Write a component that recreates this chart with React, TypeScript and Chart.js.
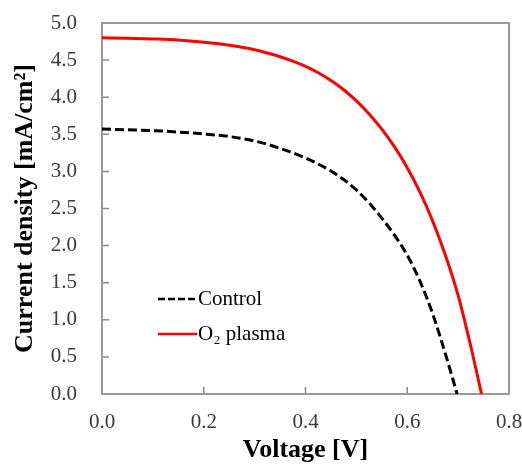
import React, { useEffect, useRef } from "react";
import { Chart, registerables } from "chart.js";

Chart.register(...registerables);

const controlV = [0, 0.05, 0.1, 0.15, 0.2, 0.25, 0.3, 0.325, 0.35, 0.375, 0.4, 0.425, 0.45, 0.475, 0.5, 0.525, 0.55, 0.575, 0.6, 0.625, 0.65, 0.675, 0.698];
const controlJ = [3.57, 3.56, 3.55, 3.53, 3.505, 3.47, 3.41, 3.365, 3.31, 3.25, 3.18, 3.1, 3.005, 2.89, 2.75, 2.575, 2.37, 2.14, 1.87, 1.52, 1.08, 0.54, 0.0];

const plasmaV = [0, 0.05, 0.1, 0.15, 0.2, 0.25, 0.3, 0.325, 0.35, 0.375, 0.4, 0.425, 0.45, 0.475, 0.5, 0.525, 0.55, 0.575, 0.6, 0.625, 0.65, 0.675, 0.7, 0.725, 0.746];
const plasmaJ = [4.8, 4.795, 4.785, 4.77, 4.74, 4.7, 4.64, 4.595, 4.545, 4.485, 4.415, 4.33, 4.225, 4.1, 3.95, 3.775, 3.57, 3.33, 3.05, 2.72, 2.33, 1.87, 1.33, 0.64, 0.0];

const seriesLabels = ["Control", "O\u2082 plasma"];
const xTitle = "Voltage [V]";
const yTitle = "Current density [mA/cm\u00B2]";

const FONT = "'Liberation Serif', 'Times New Roman', serif";

const framePlugin = {
  id: "frameTicks",
  beforeDatasetsDraw(chart: any) {
    const { ctx, chartArea: a, scales } = chart;
    ctx.save();
    ctx.strokeStyle = "#8a8a8a";
    ctx.lineWidth = 1.5;
    ctx.beginPath();
    const tl = 7;
    scales.x.ticks.forEach((t: any) => {
      const px = scales.x.getPixelForValue(t.value);
      ctx.moveTo(px, a.bottom);
      ctx.lineTo(px, a.bottom - tl);
    });
    scales.y.ticks.forEach((t: any) => {
      const py = scales.y.getPixelForValue(t.value);
      ctx.moveTo(a.left, py);
      ctx.lineTo(a.left + tl, py);
    });
    ctx.stroke();
    ctx.strokeStyle = "#999999";
    ctx.lineWidth = 2;
    ctx.strokeRect(a.left, a.top, a.right - a.left, a.bottom - a.top);
    ctx.restore();
  },
  afterDatasetsDraw(chart: any) {
    const { ctx, chartArea: a } = chart;
    const ds = chart.data.datasets;
    ctx.save();
    ctx.font = `21px ${FONT}`;
    ctx.textBaseline = "middle";
    ctx.fillStyle = "#000";
    const rows = [a.top + 276, a.top + 311];
    ds.forEach((d: any, i: number) => {
      const y = rows[i];
      ctx.beginPath();
      ctx.strokeStyle = d.borderColor;
      ctx.lineWidth = 2.5;
      ctx.setLineDash(i === 0 ? [7, 3] : []);
      ctx.moveTo(a.left + 56, y);
      ctx.lineTo(a.left + 95, y);
      ctx.stroke();
      ctx.setLineDash([]);
      ctx.fillText(d.label, a.left + 96, y);
    });
    ctx.restore();
  },
};

export default function App() {
  const ref = useRef<HTMLCanvasElement>(null);
  useEffect(() => {
    document.body.style.margin = "0";
    const chart = new Chart(ref.current!, {
      type: "line",
      data: {
        datasets: [
          {
            label: seriesLabels[0],
            data: controlV.map((v, i) => ({ x: v, y: controlJ[i] })),
            borderColor: "#000000",
            borderWidth: 3,
            borderDash: [9, 4],
            pointRadius: 0,
            cubicInterpolationMode: "monotone",
            fill: false,
          },
          {
            label: seriesLabels[1],
            data: plasmaV.map((v, i) => ({ x: v, y: plasmaJ[i] })),
            borderColor: "#ff0000",
            borderWidth: 3,
            pointRadius: 0,
            cubicInterpolationMode: "monotone",
            fill: false,
          },
        ],
      },
      options: {
        animation: false,
        responsive: true,
        maintainAspectRatio: false,
        layout: { padding: { top: 23, right: 13, left: 0, bottom: 0 } },
        plugins: { legend: { display: false }, tooltip: { enabled: false } },
        scales: {
          x: {
            type: "linear",
            min: 0,
            max: 0.8,
            grid: { display: false, drawTicks: false },
            border: { display: false },
            ticks: {
              stepSize: 0.2,
              padding: 16,
              color: "#3a3a3a",
              font: { family: FONT, size: 21 },
              callback: (v: any) => Number(v).toFixed(1),
            },
            title: {
              display: true,
              text: xTitle,
              color: "#000",
              font: { family: FONT, size: 26, weight: "bold" },
              padding: { top: 0, bottom: 0 },
            },
            afterFit: (s: any) => {
              s.height = 72;
              s.paddingLeft = 0;
              s.paddingRight = 0;
            },
          },
          y: {
            type: "linear",
            min: 0,
            max: 5,
            grid: { display: false, drawTicks: false },
            border: { display: false },
            ticks: {
              stepSize: 0.5,
              padding: 25,
              color: "#3a3a3a",
              font: { family: FONT, size: 21 },
              callback: (v: any) => Number(v).toFixed(1),
            },
            title: {
              display: true,
              text: yTitle,
              color: "#000",
              font: { family: FONT, size: 26, weight: "bold" },
              padding: { top: 10, bottom: 0 },
            },
            afterFit: (s: any) => {
              s.width = 102;
              s.paddingTop = 0;
              s.paddingBottom = 0;
            },
          },
        },
      },
      plugins: [framePlugin],
    });
    return () => chart.destroy();
  }, []);
  return (
    <div style={{ width: 522, height: 466, position: "relative" }}>
      <canvas ref={ref} />
    </div>
  );
}
